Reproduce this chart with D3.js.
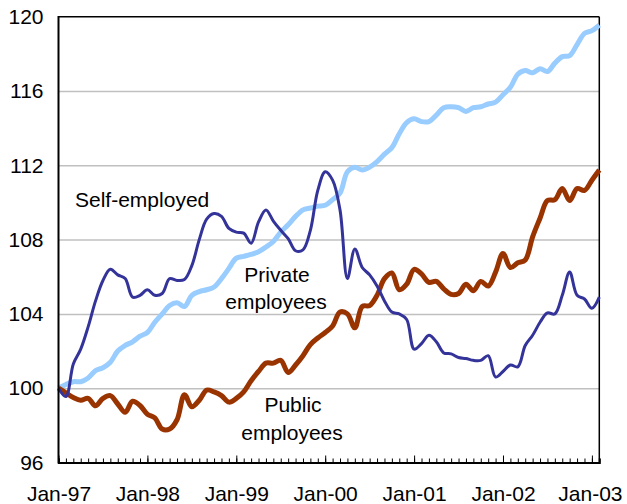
<!DOCTYPE html>
<html>
<head>
<meta charset="utf-8">
<script src="https://cdn.jsdelivr.net/npm/d3@7"></script>
<style>
  body { margin: 0; background: #fff; }
  svg { display: block; font-family: "Liberation Sans", Arial, sans-serif; }
</style>
</head>
<body>
<svg width="627" height="504"></svg>
<script>
// monthly index, Jan-97 .. Feb-03 (74 months)
const yearLabels = ["Jan-97", "Jan-98", "Jan-99", "Jan-00", "Jan-01", "Jan-02", "Jan-03"];
const yTicks = [96, 100, 104, 108, 112, 116, 120];

const selfEmployed = [
  100.0, 99.55, 101.3, 102.1, 103.3, 104.7, 105.8, 106.4, 106.1, 105.9,
  104.9, 105.0, 105.3, 105.0, 105.1, 105.9, 105.8, 105.85, 106.6, 108.0,
  109.1, 109.4, 109.25, 108.6, 108.4, 108.35, 107.8, 108.95, 109.6, 109.0,
  108.5, 108.05, 107.4, 107.45, 108.5, 110.65, 111.65, 111.2, 109.6, 105.9,
  107.5, 106.5, 106.1, 105.5, 104.7, 104.1, 104.0, 103.7, 102.1, 102.4,
  102.85, 102.5, 101.9, 101.85, 101.65, 101.6, 101.5, 101.5, 101.75, 100.6,
  100.9, 101.25, 101.15, 102.3, 102.85, 103.55, 104.05, 104.0, 105.0, 106.25,
  105.0, 104.8, 104.3, 104.9
];

const privateEmp = [
  100.0, 100.2, 100.35, 100.35, 100.55, 100.95, 101.1, 101.4, 102.0, 102.3,
  102.5, 102.8, 103.0, 103.55, 104.0, 104.45, 104.6, 104.4, 105.0, 105.2,
  105.3, 105.45, 105.9, 106.45, 107.0, 107.1, 107.2, 107.35, 107.6, 107.9,
  108.4, 108.8, 109.25, 109.6, 109.7, 109.8, 109.85, 110.15, 110.5, 111.65,
  111.9, 111.75, 111.9, 112.2, 112.6, 112.95, 113.7, 114.3, 114.5, 114.35,
  114.35, 114.7, 115.1, 115.15, 115.1, 114.9, 115.1, 115.15, 115.3, 115.4,
  115.8, 116.2, 116.9, 117.1, 116.98, 117.2, 117.05, 117.5, 117.85, 117.9,
  118.5, 119.1, 119.25, 119.55
];

const publicEmp = [
  100.0, 99.75, 99.5, 99.35, 99.45, 99.05, 99.45, 99.6, 99.15, 98.7,
  99.3, 99.07, 98.6, 98.4, 97.8, 97.8, 98.3, 99.65, 99.0, 99.35,
  99.9, 99.8, 99.6, 99.25, 99.45, 99.8, 100.4, 100.9, 101.35, 101.35,
  101.5, 100.85, 101.25, 101.75, 102.35, 102.7, 103.0, 103.35, 104.1, 104.0,
  103.25, 104.4, 104.45, 105.0, 105.9, 106.2, 105.3, 105.6, 106.4, 106.15,
  105.7, 105.75, 105.35, 105.05, 105.1, 105.6, 105.25, 105.75, 105.5, 106.25,
  107.25, 106.5, 106.75, 106.9, 108.15, 109.15, 110.1, 110.15, 110.75, 110.1,
  110.75, 110.65, 111.2, 111.75
];

const svg = d3.select("svg");
const area = { left: 58.5, right: 599.3, top: 16.7, bottom: 462.5 };

const x = d3.scaleLinear().domain([0, 73]).range([area.left, area.right]);
const y = d3.scaleLinear().domain([96, 120]).range([area.bottom, area.top]);

// gridlines
svg.append("g")
  .attr("transform", `translate(${area.left},0)`)
  .call(d3.axisLeft(y).tickValues(yTicks.slice(1, -1)).tickSize(-(area.right - area.left)).tickFormat(""))
  .call(g => g.select(".domain").remove())
  .selectAll("line").attr("stroke", "#c0c0c0").attr("stroke-width", 1.5);

// y labels
svg.append("g")
  .attr("transform", `translate(${area.left},0)`)
  .call(d3.axisLeft(y).tickValues(yTicks).tickSize(0).tickPadding(15))
  .call(g => g.select(".domain").remove())
  .selectAll("text")
  .attr("font-size", 21).attr("font-family", "Liberation Sans, Arial, sans-serif").attr("fill", "#000");

// frame top / right
svg.append("line").attr("x1", area.left).attr("x2", area.right).attr("y1", area.top).attr("y2", area.top)
  .attr("stroke", "#000").attr("stroke-width", 1.5);
svg.append("line").attr("x1", area.right).attr("x2", area.right).attr("y1", area.top).attr("y2", area.bottom)
  .attr("stroke", "#000").attr("stroke-width", 1.5);

// series
const line = d3.line()
  .x((d, i) => x(i))
  .y(d => y(d))
  .curve(d3.curveCatmullRom);

svg.append("path").datum(privateEmp).attr("d", line)
  .attr("fill", "none").attr("stroke", "#99ccff").attr("stroke-width", 5).attr("stroke-linejoin", "round");
svg.append("path").datum(publicEmp).attr("d", line)
  .attr("fill", "none").attr("stroke", "#993300").attr("stroke-width", 5).attr("stroke-linejoin", "round");
svg.append("path").datum(selfEmployed).attr("d", line)
  .attr("fill", "none").attr("stroke", "#333399").attr("stroke-width", 3).attr("stroke-linejoin", "round");

// left axis line
svg.append("line").attr("x1", area.left).attr("x2", area.left).attr("y1", area.top - 0.7).attr("y2", area.bottom + 1)
  .attr("stroke", "#000").attr("stroke-width", 2);

const months = d3.range(74);
const majors = yearLabels.map((d, i) => i * 12);

// minor ticks (inside)
svg.append("g")
  .attr("transform", `translate(0,${area.bottom})`)
  .call(d3.axisBottom(x).tickValues(months).tickSize(-4).tickFormat(""))
  .call(g => g.select(".domain").attr("stroke-width", 2))
  .selectAll("line").attr("stroke", "#000").attr("stroke-width", 1);

// major ticks + labels
svg.append("g")
  .attr("transform", `translate(0,${area.bottom})`)
  .call(d3.axisBottom(x).tickValues(majors).tickSize(-7).tickPadding(24)
    .tickFormat((d, i) => yearLabels[i]))
  .call(g => g.select(".domain").remove())
  .call(g => g.selectAll("line").attr("stroke", "#000").attr("stroke-width", 1))
  .selectAll("text")
  .attr("font-size", 21).attr("font-family", "Liberation Sans, Arial, sans-serif").attr("fill", "#000")
  .attr("dx", (d, i) => i === yearLabels.length - 1 ? -2 : 0);

// series labels
const lab = svg.append("g").attr("font-size", 21).attr("fill", "#000");
lab.append("text").attr("x", 75).attr("y", 207).text("Self-employed");
lab.append("text").attr("x", 277).attr("y", 282).attr("text-anchor", "middle").text("Private");
lab.append("text").attr("x", 276).attr("y", 309).attr("text-anchor", "middle").text("employees");
lab.append("text").attr("x", 293).attr("y", 412).attr("text-anchor", "middle").text("Public");
lab.append("text").attr("x", 292).attr("y", 440).attr("text-anchor", "middle").text("employees");
</script>
</body>
</html>
